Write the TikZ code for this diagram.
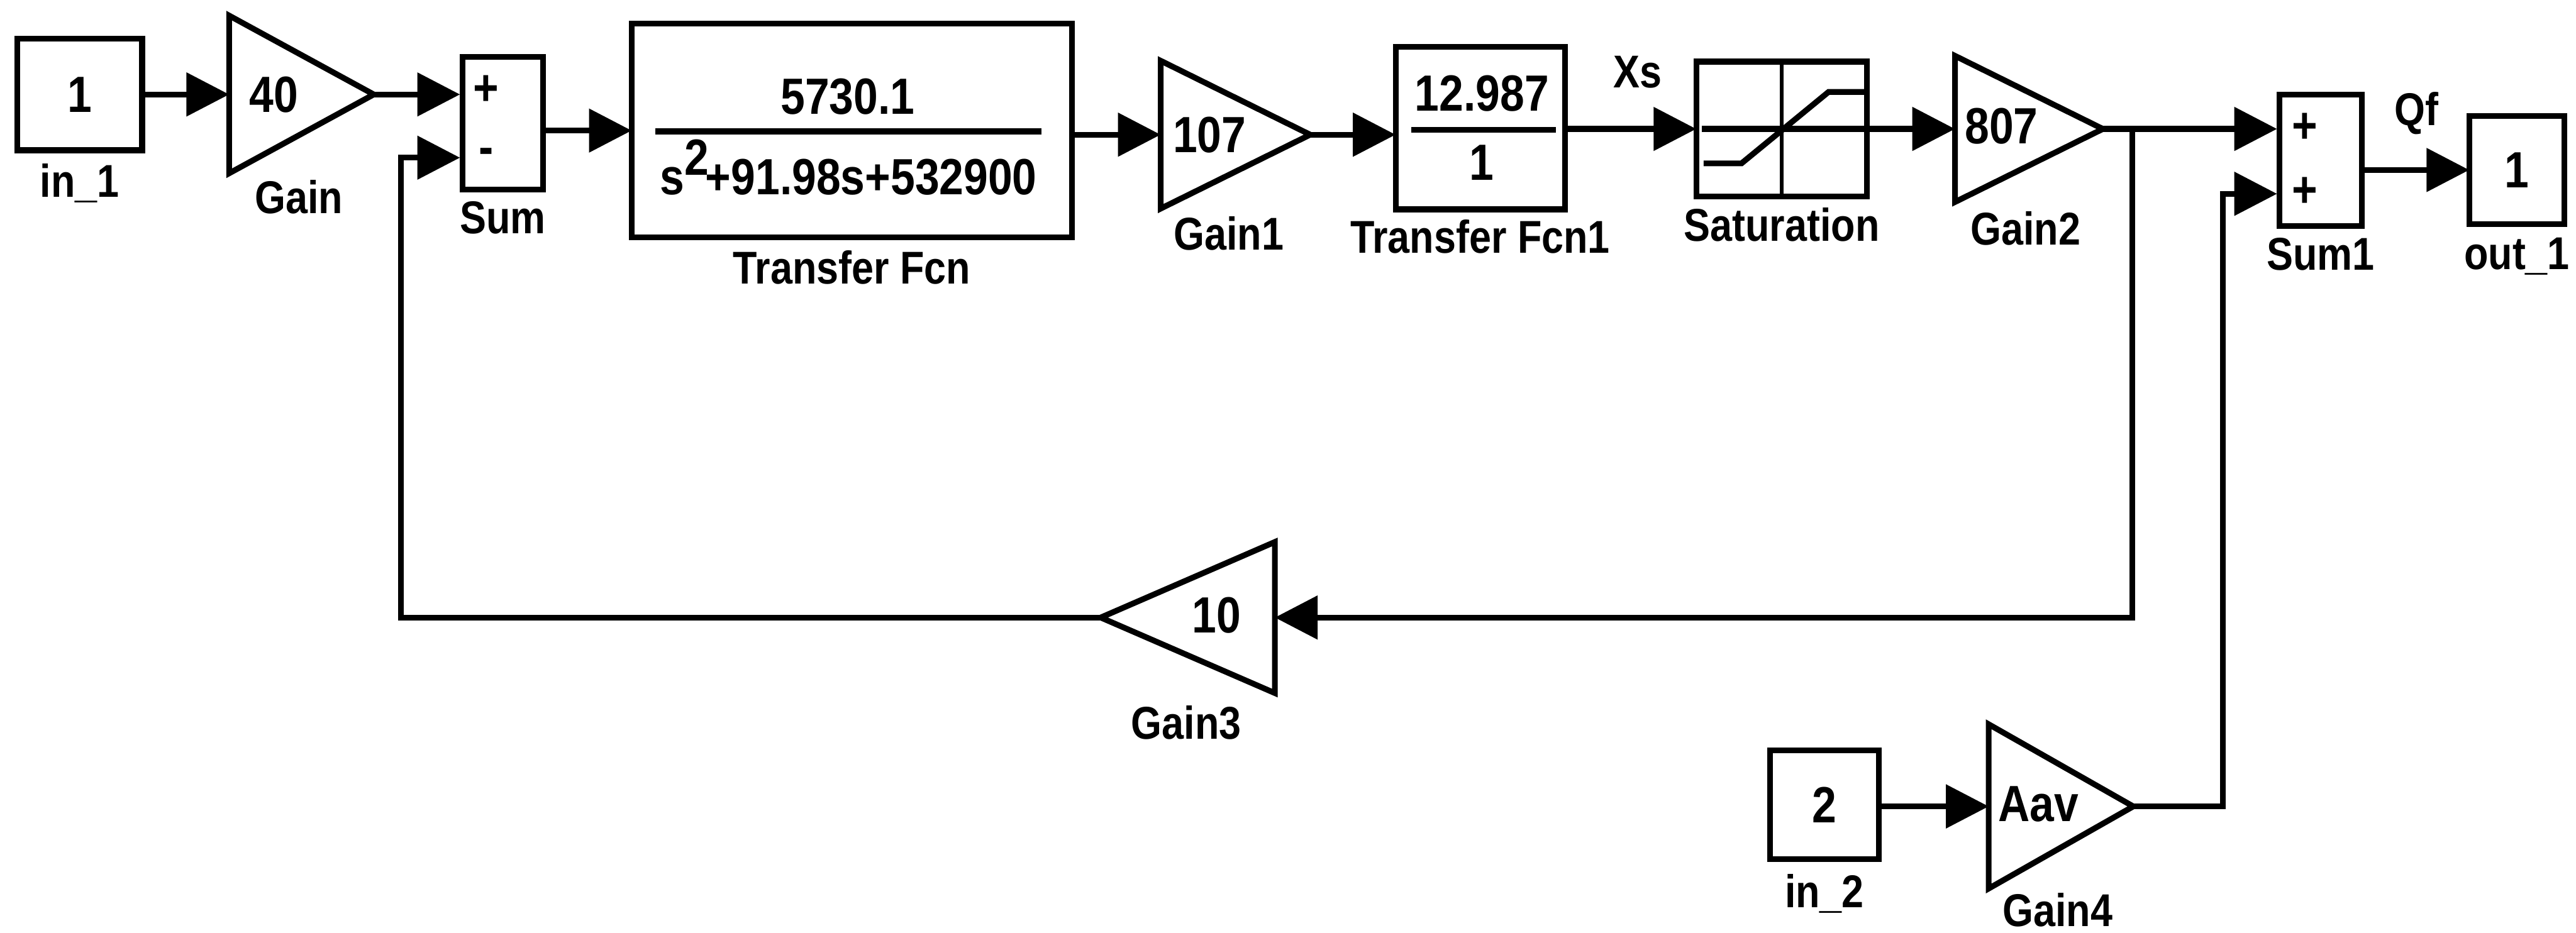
\documentclass[tikz,border=0pt]{standalone}
\usepackage{fontspec}
\setmainfont[FakeStretch=0.86]{Liberation Sans}
\usetikzlibrary{positioning,shapes.geometric,arrows.meta}
\tikzset{
  captext/.style={font=\fontsize{28}{30}\selectfont\bfseries, inner sep=0pt},
  blocktext/.style={font=\fontsize{31}{33}\selectfont\bfseries, inner sep=0pt},
  blockbox/.style={draw, line width=3.5pt, outer sep=0pt, blocktext},
  gainblock/.style={draw, line width=3.5pt, outer sep=0pt, blocktext, isosceles triangle,
    isosceles triangle stretches, anchor=lower side},
  sig/.style={draw, line width=3.5pt, -{Triangle[length=26pt,width=26pt]}},
  wire/.style={draw, line width=3.5pt}
}
\begin{document}
\begin{tikzpicture}[x=1pt,y=-1pt]
\useasboundingbox (0,0) rectangle (1568,568);
\node[blockbox, minimum width=76pt, minimum height=68pt] (in1) at (48.5,57.5) {1};
\node[captext, below=8pt of in1] (in1cap) {in\_1};
\node[gainblock, minimum height=88pt, minimum width=96pt] (gain) at (139.5,57.5) {40};
\node[captext] (gaincap) at (182,120) {Gain};
\node[blockbox, minimum width=49pt, minimum height=81pt] (sum) at (306,75) {};
\node[blocktext] (sumplus) at (296,55) {+};
\node[blocktext] (summinus) at (296,95) {-};
\node[captext, below=7pt of sum] (sumcap) {Sum};
\coordinate (sumin1) at (280,57.5);
\coordinate (sumin2) at (280,96);
\node[blockbox, minimum width=268pt, minimum height=130pt] (tf) at (518.5,79.5) {};
\node[blocktext] (tfnum) at (516,59) {5730.1};
\node[blocktext] (tfden) at (516.5,102) {s\raisebox{12pt}{2}\kern-2pt+91.98s+532900};
\draw[wire] (399,80) -- (634,80);
\node[captext, below=8pt of tf] (tfcap) {Transfer Fcn};
\node[gainblock, minimum height=91pt, minimum width=90pt] (gain1) at (706.5,82) {107};
\node[captext] (gain1cap) at (748,142) {Gain1};
\node[blockbox, minimum width=103pt, minimum height=99pt] (tf1) at (901,78) {};
\node[blocktext] (tf1num) at (902,57) {12.987};
\node[blocktext] (tf1den) at (902,99) {1};
\draw[wire] (859,79) -- (947,79);
\node[captext, below=6pt of tf1] (tf1cap) {Transfer Fcn1};
\node[captext] (xs) at (997,44) {Xs};
\node[blockbox, minimum width=104pt, minimum height=82pt] (sat) at (1084.5,78.5) {};
\draw[line width=2.4pt] (sat.north) -- (sat.south);
\draw[wire] (1036,78.5) -- (sat.east);
\draw[wire] (1037,99.5) -- (1060,99.5) -- (1113,56) -- (1135,56);
\node[captext, below=7pt of sat] (satcap) {Saturation};
\node[gainblock, minimum height=90pt, minimum width=89pt] (gain2) at (1190,78.5) {\raisebox{4pt}{807}};
\node[captext] (gain2cap) at (1233,139) {Gain2};
\node[blockbox, minimum width=50pt, minimum height=80pt] (sum1) at (1412.5,97.5) {};
\node[blocktext] (sum1a) at (1403,78) {+};
\node[blocktext] (sum1b) at (1403,117) {+};
\node[captext, below=7pt of sum1] (sum1cap) {Sum1};
\coordinate (sum1in1) at (1386,78.5);
\coordinate (sum1in2) at (1386,118);
\node[captext] (qf) at (1471,69) {Qf};
\node[blockbox, minimum width=58pt, minimum height=66pt] (out1) at (1532,103.5) {1};
\node[captext, below=8pt of out1] (out1cap) {out\_1};
\node[gainblock, shape border rotate=180, minimum height=106pt, minimum width=92pt] (gain3) at (776,376) {\raisebox{3pt}{10}\kern10pt};
\node[captext] (gain3cap) at (722,440) {Gain3};
\node[blockbox, minimum width=66pt, minimum height=66pt] (in2) at (1110.5,490) {2};
\node[captext, below=9pt of in2] (in2cap) {in\_2};
\node[gainblock, minimum height=88pt, minimum width=100pt] (gain4) at (1210.5,491) {\raisebox{3pt}{Aav}};
\node[captext] (gain4cap) at (1252.5,554) {Gain4};
\coordinate (branch) at (1298,78.5);
\coordinate (branchlow) at (1298,376);
\coordinate (fbcorner) at (244,376);
\coordinate (fbtop) at (244,96);
\coordinate (avcorner) at (1353,491);
\coordinate (avtop) at (1353,118);
\draw[sig] (in1.east) -- (gain.lower side);
\draw[sig] (gain.apex) -- (sumin1);
\draw[sig] (sum.east |- tf.west) -- (tf.west);
\draw[sig] (tf.east |- gain1.lower side) -- (gain1.lower side);
\draw[sig] (gain1.apex) -- (gain1.apex -| tf1.west);
\draw[sig] (tf1.east |- sat.west) -- (sat.west);
\draw[sig] (sat.east) -- (gain2.lower side);
\draw[sig] (gain2.apex) -- (sum1in1);
\draw[sig] (branch) -- (branchlow) -- (gain3.lower side);
\draw[sig] (gain3.apex) -- (fbcorner) -- (fbtop) -- (sumin2);
\draw[sig] (in2.east |- gain4.lower side) -- (gain4.lower side);
\draw[sig] (gain4.apex) -- (avcorner) -- (avtop) -- (sum1in2);
\draw[sig] (sum1.east |- out1.west) -- (out1.west);
\end{tikzpicture}
\end{document}
